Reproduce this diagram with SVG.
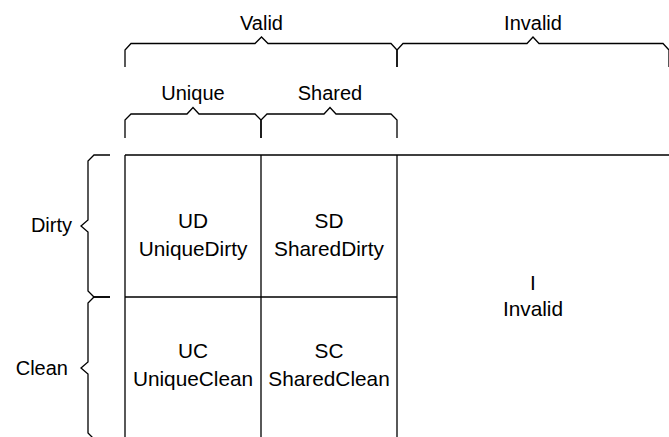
<svg xmlns="http://www.w3.org/2000/svg" width="669" height="437" viewBox="0 0 669 437">
<style>
.ln{fill:none;stroke:#000;stroke-width:1.3;stroke-linejoin:miter}
text{font-family:"Liberation Sans",Arial,sans-serif;font-size:20px;fill:#000;text-anchor:middle}
.c text{font-size:20.8px}
</style>
<rect width="669" height="437" fill="#fff"/>
<g id="connectors">
<path class="ln" d="M125,67 V50 L131,43.5 H255 L261.5,37 L268,43.5 H391 L397,50 V67"/>
<path class="ln" d="M397,67 V50 L403,43.5 H527 L533,37 L539,43.5 H663 L669,50 V67"/>
<path class="ln" d="M125,138 V120 L131,114 H187 L193,107.5 L199,114 H255 L261,120 V138"/>
<path class="ln" d="M261,138 V120 L267,114 H324 L330,107.5 L336,114 H391 L397,120 V138"/>
<path class="ln" d="M110,155 H94 L88,161 V220 L81,226 L88,232 V291 L94,297 H110"/>
<path class="ln" d="M110,297 H94 L88,303 V362 L81,368 L88,374 V433 L94,439 H110"/>
</g>
<g id="labels">
<text x="261.5" y="30">Valid</text>
<text x="533" y="30">Invalid</text>
<text x="193" y="100">Unique</text>
<text x="330" y="100">Shared</text>
<text x="72" y="232" style="text-anchor:end">Dirty</text>
<text x="68" y="375" style="text-anchor:end">Clean</text>
</g>
<g id="grid">
<path class="ln" d="M125,155 H669 M125,297 H397 M125,155 V437 M261,155 V437 M397,155 V437"/>
</g>
<g id="UD" class="c"><text x="193" y="228">UD</text><text x="193" y="256">UniqueDirty</text></g>
<g id="SD" class="c"><text x="329" y="228">SD</text><text x="329" y="256">SharedDirty</text></g>
<g id="UC" class="c"><text x="193" y="358">UC</text><text x="193" y="386">UniqueClean</text></g>
<g id="SC" class="c"><text x="329" y="358">SC</text><text x="329" y="386">SharedClean</text></g>
<g id="I" class="c"><text x="533" y="290">I</text><text x="533" y="316">Invalid</text></g>
</svg>
